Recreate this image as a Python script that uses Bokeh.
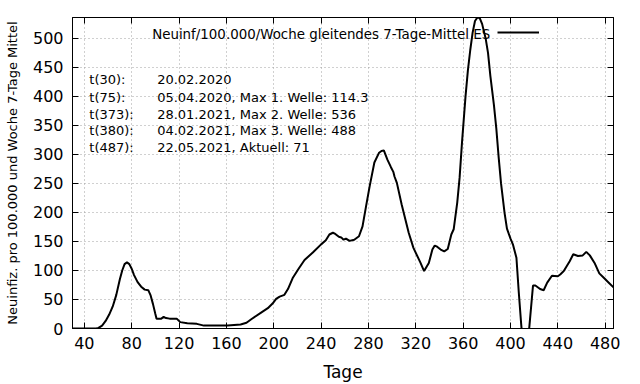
from bokeh.plotting import figure
from bokeh.models import (Range1d, LinearAxis, FixedTicker, Label, Legend, LegendItem)
from bokeh.embed import file_html
from bokeh.resources import INLINE

# ---- data ----
days = [30, 50, 52, 55, 58, 61, 64, 67, 70, 72, 74, 76, 78, 80, 82, 85, 88, 91, 94, 96, 98, 100, 101,
        105, 107, 109, 112, 118, 121, 127, 135, 141, 161, 172, 177, 181, 189, 195, 199, 202, 205,
        209, 212, 216, 221, 226, 233, 240, 244, 247, 250, 252, 255, 257, 259, 261, 264, 268, 272,
        275, 278, 281, 285, 289, 291, 293, 296, 299, 301, 302, 304, 308, 314, 318, 324, 327, 331,
        334, 336, 338, 341, 344, 347, 350, 352, 355, 357, 359, 362, 364, 366, 368, 370, 372, 374,
        376, 379, 381, 383, 386, 388, 390, 392, 395, 397, 400, 402, 405, 407, 409, 411, 414, 416,
        419, 421, 425, 428, 431, 435, 440, 442, 445, 450, 453, 457, 461, 464, 467, 471, 475, 479,
        483, 487]
values = [0, 0, 1, 5, 13, 24, 38, 58, 85, 100, 111, 114, 111, 103, 92, 80, 72, 67, 66, 57, 42, 25, 17,
          17, 20, 18, 17, 17, 11, 9, 8, 5, 5, 7, 10, 16, 27, 35, 43, 51, 55,
          58, 68, 87, 103, 118, 131, 145, 152, 162, 165, 163, 158, 157, 153, 155, 151, 153, 159,
          176, 211, 245, 286, 303, 306, 307, 291, 278, 270, 262, 251, 214, 165, 139, 113, 99, 113,
          136, 143, 141, 136, 133, 137, 162, 171, 217, 260, 320, 400, 445, 480, 510, 530, 536, 535,
          525, 500, 475, 435, 385, 345, 295, 250, 199, 172, 155, 145, 122, 62, 8, -40, -40, 5,
          74, 74, 68, 66, 79, 91, 90, 93, 99, 116, 128, 125, 126, 132, 126, 113, 95, 87,
          79, 71]

x_ticks = [40, 80, 120, 160, 200, 240, 280, 320, 360, 400, 440, 480]
y_ticks = [0, 50, 100, 150, 200, 250, 300, 350, 400, 450, 500]

legend_text = "Neuinf/100.000/Woche gleitendes 7-Tage-Mittel ES"
note_keys = ["t(30):", "t(75):", "t(373):", "t(380):", "t(487):"]
note_vals = ["20.02.2020",
             "05.04.2020, Max 1. Welle: 114.3",
             "28.01.2021, Max 2. Welle: 536",
             "04.02.2021, Max 3. Welle: 488",
             "22.05.2021, Aktuell: 71"]

FONT = "DejaVu Sans"

p = figure(width=640, height=384, output_backend="svg", toolbar_location=None,
           x_range=Range1d(30, 487), y_range=Range1d(0, 536),
           min_border_left=72, min_border_right=27, min_border_top=17, min_border_bottom=55)
p.background_fill_color = "white"
p.border_fill_color = "white"
p.outline_line_color = "black"
p.outline_line_width = 1

r = p.line(days, values, line_color="black", line_width=2)

# axes
for ax, tk in ((p.xaxis[0], x_ticks), (p.yaxis[0], y_ticks)):
    ax.ticker = FixedTicker(ticks=tk)
    ax.major_tick_in = 6
    ax.major_tick_out = 0
    ax.minor_tick_in = 0
    ax.minor_tick_out = 0
    ax.axis_line_color = "black"
    ax.major_tick_line_color = "black"
    ax.major_label_text_font = FONT
    ax.major_label_text_font_size = "16px"
    ax.major_label_text_color = "black"
    ax.axis_label_text_font = FONT
    ax.axis_label_text_font_style = "normal"
    ax.axis_label_text_color = "black"

p.xaxis[0].axis_label = "Tage"
p.xaxis[0].axis_label_text_font_size = "17px"
p.xaxis[0].major_label_standoff = 8
p.xaxis[0].axis_label_standoff = 10
p.yaxis[0].axis_label = "Neuinfiz. pro 100.000 und Woche 7-Tage Mittel"
p.yaxis[0].axis_label_text_font_size = "13px"
p.yaxis[0].major_label_standoff = 9
p.yaxis[0].axis_label_standoff = 10

# mirror axes (ticks only, labels not painted)
mirror = dict(major_tick_in=6, major_tick_out=0, minor_tick_in=0, minor_tick_out=0,
              major_label_text_font_size="0px", major_label_text_color=None,
              major_label_text_alpha=0, major_label_standoff=0, axis_line_color="black")
top = LinearAxis(ticker=FixedTicker(ticks=x_ticks), **mirror)
right = LinearAxis(ticker=FixedTicker(ticks=y_ticks), **mirror)
p.add_layout(top, "above")
p.add_layout(right, "right")

# grid
for g in (p.xgrid[0], p.ygrid[0]):
    g.grid_line_color = "#a0a0a0"
    g.grid_line_dash = "1 3"
    g.grid_line_width = 1
p.xgrid[0].ticker = FixedTicker(ticks=x_ticks)
p.ygrid[0].ticker = FixedTicker(ticks=y_ticks)

# annotation block
note_y = [429, 398, 369, 341, 312]
for k, v, yy in zip(note_keys, note_vals, note_y):
    p.add_layout(Label(x=44.2, y=yy, text=k, text_font=FONT, text_font_size="13px",
                       text_baseline="middle", text_color="black"))
    p.add_layout(Label(x=101.5, y=yy, text=v, text_font=FONT, text_font_size="13px",
                       text_baseline="middle", text_color="black"))

# legend: text then line sample (gnuplot style)
p.add_layout(Label(x=382.8, y=506.6, text=legend_text, text_font=FONT, text_font_size="13.4px",
                   text_baseline="middle", text_align="right", text_color="black"))
leg = Legend(items=[LegendItem(label=" ", renderers=[r])], location=(425, 286),
             glyph_width=42, glyph_height=20, label_width=0, label_standoff=0,
             padding=0, margin=0, spacing=0, label_text_font_size="1px",
             background_fill_alpha=0, border_line_alpha=0)
p.add_layout(leg, "center")

open("out.html", "w").write(file_html(p, INLINE))
